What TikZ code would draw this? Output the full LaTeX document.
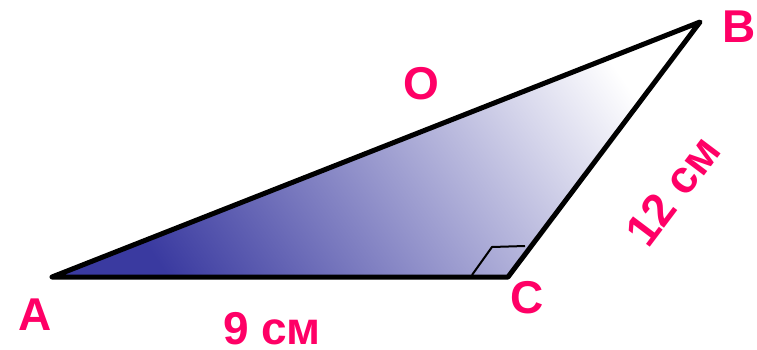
\documentclass[tikz,border=0pt]{standalone}
\usepackage{fontspec}
\setsansfont{Liberation Sans}
\definecolor{lbl}{RGB}{255,0,102}
\definecolor{darkb}{RGB}{58,58,160}
\begin{document}
\begin{tikzpicture}[x=1pt,y=-1pt,
  lab/.style={text=lbl,font=\fontsize{46}{46}\selectfont\sffamily\bfseries,inner sep=0pt},
  edge/.style={line width=5pt,line join=round,line cap=round}]
\useasboundingbox (0,0) rectangle (757,350);
\coordinate (A) at (52,277);
\coordinate (C) at (508,277);
\coordinate (B) at (700,22);
\shade[bottom color=darkb,top color=white,shading angle=-55] (A) -- (C) -- (B) -- cycle;
\coordinate (m1) at (472,275);
\coordinate (m2) at (492,247);
\coordinate (m3) at (525,246);
\draw[line width=2pt] (m1) -- (m2) -- (m3);
\draw[edge] (A) -- (C) -- (B) -- cycle;
\node[lab] (la) at (35,315) {A};
\node[lab] (lb) at (739,27) {B};
\node[lab] (lc) at (527,298) {C};
\node[lab] (lo) at (421,84) {O};
\node[lab] (l9) at (272,329) {9 см};
\node[lab,rotate=53] (l12) at (673,191) {12 см};
\end{tikzpicture}
\end{document}
